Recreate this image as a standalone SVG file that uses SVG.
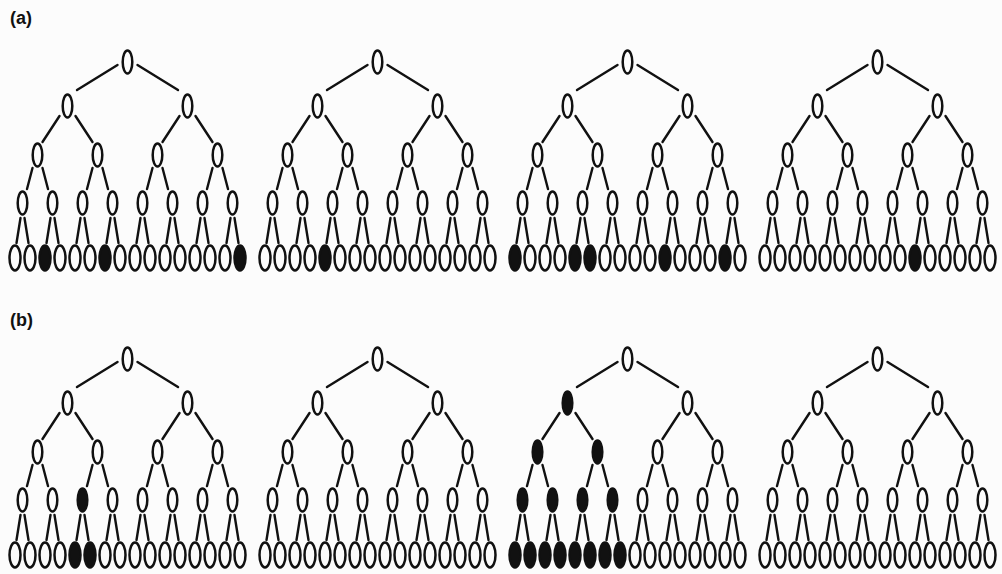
<svg xmlns="http://www.w3.org/2000/svg" xmlns:xlink="http://www.w3.org/1999/xlink" width="1002" height="574" viewBox="0 0 1002 574">
<style>
.o{fill:#fcfcfc;stroke:#111;stroke-width:2.5}
.f{fill:#111;stroke:#111;stroke-width:2.5}
.e{fill:none;stroke:#111;stroke-width:2.4;stroke-linecap:round}
.lbl{font-family:"Liberation Sans",Arial,sans-serif;font-weight:bold;font-size:18px;fill:#111}
</style>
<defs>
<ellipse id="i" cx="0" cy="0" rx="4.8" ry="11.5"/>
<ellipse id="lf" cx="0" cy="0" rx="5.5" ry="12.5"/>
<path id="edges" d="M117.5 65L77 90M137.5 65L178 90M59.5 116L42.5 142M75.5 116L92.5 142M179.5 116L162.5 142M195.5 116L212.5 142M32.5 168L27 189M42.5 168L48 189M92.5 168L87 189M102.5 168L108 189M152.5 168L147 189M162.5 168L168 189M212.5 168L207 189M222.5 168L228 189M20.5 218L16.5 243M24.5 218L28.5 243M50.5 218L46.5 243M54.5 218L58.5 243M80.5 218L76.5 243M84.5 218L88.5 243M110.5 218L106.5 243M114.5 218L118.5 243M140.5 218L136.5 243M144.5 218L148.5 243M170.5 218L166.5 243M174.5 218L178.5 243M200.5 218L196.5 243M204.5 218L208.5 243M230.5 218L226.5 243M234.5 218L238.5 243"/>
</defs>
<rect width="1002" height="574" fill="#fcfcfc"/>
<text class="lbl" x="10" y="24">(a)</text>
<text class="lbl" x="10" y="326">(b)</text>
<g id="connectors">
<use href="#edges" class="e" x="0" y="0"/>
<use href="#edges" class="e" x="250" y="0"/>
<use href="#edges" class="e" x="500" y="0"/>
<use href="#edges" class="e" x="750" y="0"/>
<use href="#edges" class="e" x="0" y="297"/>
<use href="#edges" class="e" x="250" y="297"/>
<use href="#edges" class="e" x="500" y="297"/>
<use href="#edges" class="e" x="750" y="297"/>
</g>

<g id="tree-a1" transform="translate(0,0)">
<g id="a1-n0"><use href="#i" class="o" x="127.5" y="62"/></g>
<g id="a1-n1"><use href="#i" class="o" x="67.5" y="106"/></g>
<g id="a1-n2"><use href="#i" class="o" x="187.5" y="106"/></g>
<g id="a1-n3"><use href="#i" class="o" x="37.5" y="155"/></g>
<g id="a1-n4"><use href="#i" class="o" x="97.5" y="155"/></g>
<g id="a1-n5"><use href="#i" class="o" x="157.5" y="155"/></g>
<g id="a1-n6"><use href="#i" class="o" x="217.5" y="155"/></g>
<g id="a1-n7"><use href="#i" class="o" x="22.5" y="203"/></g>
<g id="a1-n8"><use href="#i" class="o" x="52.5" y="203"/></g>
<g id="a1-n9"><use href="#i" class="o" x="82.5" y="203"/></g>
<g id="a1-n10"><use href="#i" class="o" x="112.5" y="203"/></g>
<g id="a1-n11"><use href="#i" class="o" x="142.5" y="203"/></g>
<g id="a1-n12"><use href="#i" class="o" x="172.5" y="203"/></g>
<g id="a1-n13"><use href="#i" class="o" x="202.5" y="203"/></g>
<g id="a1-n14"><use href="#i" class="o" x="232.5" y="203"/></g>
<g id="a1-n15"><use href="#lf" class="o" x="15" y="258"/></g>
<g id="a1-n16"><use href="#lf" class="o" x="30" y="258"/></g>
<g id="a1-n17"><use href="#lf" class="f" x="45" y="258"/></g>
<g id="a1-n18"><use href="#lf" class="o" x="60" y="258"/></g>
<g id="a1-n19"><use href="#lf" class="o" x="75" y="258"/></g>
<g id="a1-n20"><use href="#lf" class="o" x="90" y="258"/></g>
<g id="a1-n21"><use href="#lf" class="f" x="105" y="258"/></g>
<g id="a1-n22"><use href="#lf" class="o" x="120" y="258"/></g>
<g id="a1-n23"><use href="#lf" class="o" x="135" y="258"/></g>
<g id="a1-n24"><use href="#lf" class="o" x="150" y="258"/></g>
<g id="a1-n25"><use href="#lf" class="o" x="165" y="258"/></g>
<g id="a1-n26"><use href="#lf" class="o" x="180" y="258"/></g>
<g id="a1-n27"><use href="#lf" class="o" x="195" y="258"/></g>
<g id="a1-n28"><use href="#lf" class="o" x="210" y="258"/></g>
<g id="a1-n29"><use href="#lf" class="o" x="225" y="258"/></g>
<g id="a1-n30"><use href="#lf" class="f" x="240" y="258"/></g>
</g>

<g id="tree-a2" transform="translate(250,0)">
<g id="a2-n0"><use href="#i" class="o" x="127.5" y="62"/></g>
<g id="a2-n1"><use href="#i" class="o" x="67.5" y="106"/></g>
<g id="a2-n2"><use href="#i" class="o" x="187.5" y="106"/></g>
<g id="a2-n3"><use href="#i" class="o" x="37.5" y="155"/></g>
<g id="a2-n4"><use href="#i" class="o" x="97.5" y="155"/></g>
<g id="a2-n5"><use href="#i" class="o" x="157.5" y="155"/></g>
<g id="a2-n6"><use href="#i" class="o" x="217.5" y="155"/></g>
<g id="a2-n7"><use href="#i" class="o" x="22.5" y="203"/></g>
<g id="a2-n8"><use href="#i" class="o" x="52.5" y="203"/></g>
<g id="a2-n9"><use href="#i" class="o" x="82.5" y="203"/></g>
<g id="a2-n10"><use href="#i" class="o" x="112.5" y="203"/></g>
<g id="a2-n11"><use href="#i" class="o" x="142.5" y="203"/></g>
<g id="a2-n12"><use href="#i" class="o" x="172.5" y="203"/></g>
<g id="a2-n13"><use href="#i" class="o" x="202.5" y="203"/></g>
<g id="a2-n14"><use href="#i" class="o" x="232.5" y="203"/></g>
<g id="a2-n15"><use href="#lf" class="o" x="15" y="258"/></g>
<g id="a2-n16"><use href="#lf" class="o" x="30" y="258"/></g>
<g id="a2-n17"><use href="#lf" class="o" x="45" y="258"/></g>
<g id="a2-n18"><use href="#lf" class="o" x="60" y="258"/></g>
<g id="a2-n19"><use href="#lf" class="f" x="75" y="258"/></g>
<g id="a2-n20"><use href="#lf" class="o" x="90" y="258"/></g>
<g id="a2-n21"><use href="#lf" class="o" x="105" y="258"/></g>
<g id="a2-n22"><use href="#lf" class="o" x="120" y="258"/></g>
<g id="a2-n23"><use href="#lf" class="o" x="135" y="258"/></g>
<g id="a2-n24"><use href="#lf" class="o" x="150" y="258"/></g>
<g id="a2-n25"><use href="#lf" class="o" x="165" y="258"/></g>
<g id="a2-n26"><use href="#lf" class="o" x="180" y="258"/></g>
<g id="a2-n27"><use href="#lf" class="o" x="195" y="258"/></g>
<g id="a2-n28"><use href="#lf" class="o" x="210" y="258"/></g>
<g id="a2-n29"><use href="#lf" class="o" x="225" y="258"/></g>
<g id="a2-n30"><use href="#lf" class="o" x="240" y="258"/></g>
</g>

<g id="tree-a3" transform="translate(500,0)">
<g id="a3-n0"><use href="#i" class="o" x="127.5" y="62"/></g>
<g id="a3-n1"><use href="#i" class="o" x="67.5" y="106"/></g>
<g id="a3-n2"><use href="#i" class="o" x="187.5" y="106"/></g>
<g id="a3-n3"><use href="#i" class="o" x="37.5" y="155"/></g>
<g id="a3-n4"><use href="#i" class="o" x="97.5" y="155"/></g>
<g id="a3-n5"><use href="#i" class="o" x="157.5" y="155"/></g>
<g id="a3-n6"><use href="#i" class="o" x="217.5" y="155"/></g>
<g id="a3-n7"><use href="#i" class="o" x="22.5" y="203"/></g>
<g id="a3-n8"><use href="#i" class="o" x="52.5" y="203"/></g>
<g id="a3-n9"><use href="#i" class="o" x="82.5" y="203"/></g>
<g id="a3-n10"><use href="#i" class="o" x="112.5" y="203"/></g>
<g id="a3-n11"><use href="#i" class="o" x="142.5" y="203"/></g>
<g id="a3-n12"><use href="#i" class="o" x="172.5" y="203"/></g>
<g id="a3-n13"><use href="#i" class="o" x="202.5" y="203"/></g>
<g id="a3-n14"><use href="#i" class="o" x="232.5" y="203"/></g>
<g id="a3-n15"><use href="#lf" class="f" x="15" y="258"/></g>
<g id="a3-n16"><use href="#lf" class="o" x="30" y="258"/></g>
<g id="a3-n17"><use href="#lf" class="o" x="45" y="258"/></g>
<g id="a3-n18"><use href="#lf" class="o" x="60" y="258"/></g>
<g id="a3-n19"><use href="#lf" class="f" x="75" y="258"/></g>
<g id="a3-n20"><use href="#lf" class="f" x="90" y="258"/></g>
<g id="a3-n21"><use href="#lf" class="o" x="105" y="258"/></g>
<g id="a3-n22"><use href="#lf" class="o" x="120" y="258"/></g>
<g id="a3-n23"><use href="#lf" class="o" x="135" y="258"/></g>
<g id="a3-n24"><use href="#lf" class="o" x="150" y="258"/></g>
<g id="a3-n25"><use href="#lf" class="f" x="165" y="258"/></g>
<g id="a3-n26"><use href="#lf" class="o" x="180" y="258"/></g>
<g id="a3-n27"><use href="#lf" class="o" x="195" y="258"/></g>
<g id="a3-n28"><use href="#lf" class="o" x="210" y="258"/></g>
<g id="a3-n29"><use href="#lf" class="f" x="225" y="258"/></g>
<g id="a3-n30"><use href="#lf" class="o" x="240" y="258"/></g>
</g>

<g id="tree-a4" transform="translate(750,0)">
<g id="a4-n0"><use href="#i" class="o" x="127.5" y="62"/></g>
<g id="a4-n1"><use href="#i" class="o" x="67.5" y="106"/></g>
<g id="a4-n2"><use href="#i" class="o" x="187.5" y="106"/></g>
<g id="a4-n3"><use href="#i" class="o" x="37.5" y="155"/></g>
<g id="a4-n4"><use href="#i" class="o" x="97.5" y="155"/></g>
<g id="a4-n5"><use href="#i" class="o" x="157.5" y="155"/></g>
<g id="a4-n6"><use href="#i" class="o" x="217.5" y="155"/></g>
<g id="a4-n7"><use href="#i" class="o" x="22.5" y="203"/></g>
<g id="a4-n8"><use href="#i" class="o" x="52.5" y="203"/></g>
<g id="a4-n9"><use href="#i" class="o" x="82.5" y="203"/></g>
<g id="a4-n10"><use href="#i" class="o" x="112.5" y="203"/></g>
<g id="a4-n11"><use href="#i" class="o" x="142.5" y="203"/></g>
<g id="a4-n12"><use href="#i" class="o" x="172.5" y="203"/></g>
<g id="a4-n13"><use href="#i" class="o" x="202.5" y="203"/></g>
<g id="a4-n14"><use href="#i" class="o" x="232.5" y="203"/></g>
<g id="a4-n15"><use href="#lf" class="o" x="15" y="258"/></g>
<g id="a4-n16"><use href="#lf" class="o" x="30" y="258"/></g>
<g id="a4-n17"><use href="#lf" class="o" x="45" y="258"/></g>
<g id="a4-n18"><use href="#lf" class="o" x="60" y="258"/></g>
<g id="a4-n19"><use href="#lf" class="o" x="75" y="258"/></g>
<g id="a4-n20"><use href="#lf" class="o" x="90" y="258"/></g>
<g id="a4-n21"><use href="#lf" class="o" x="105" y="258"/></g>
<g id="a4-n22"><use href="#lf" class="o" x="120" y="258"/></g>
<g id="a4-n23"><use href="#lf" class="o" x="135" y="258"/></g>
<g id="a4-n24"><use href="#lf" class="o" x="150" y="258"/></g>
<g id="a4-n25"><use href="#lf" class="f" x="165" y="258"/></g>
<g id="a4-n26"><use href="#lf" class="o" x="180" y="258"/></g>
<g id="a4-n27"><use href="#lf" class="o" x="195" y="258"/></g>
<g id="a4-n28"><use href="#lf" class="o" x="210" y="258"/></g>
<g id="a4-n29"><use href="#lf" class="o" x="225" y="258"/></g>
<g id="a4-n30"><use href="#lf" class="o" x="240" y="258"/></g>
</g>

<g id="tree-b1" transform="translate(0,297)">
<g id="b1-n0"><use href="#i" class="o" x="127.5" y="62"/></g>
<g id="b1-n1"><use href="#i" class="o" x="67.5" y="106"/></g>
<g id="b1-n2"><use href="#i" class="o" x="187.5" y="106"/></g>
<g id="b1-n3"><use href="#i" class="o" x="37.5" y="155"/></g>
<g id="b1-n4"><use href="#i" class="o" x="97.5" y="155"/></g>
<g id="b1-n5"><use href="#i" class="o" x="157.5" y="155"/></g>
<g id="b1-n6"><use href="#i" class="o" x="217.5" y="155"/></g>
<g id="b1-n7"><use href="#i" class="o" x="22.5" y="203"/></g>
<g id="b1-n8"><use href="#i" class="o" x="52.5" y="203"/></g>
<g id="b1-n9"><use href="#i" class="f" x="82.5" y="203"/></g>
<g id="b1-n10"><use href="#i" class="o" x="112.5" y="203"/></g>
<g id="b1-n11"><use href="#i" class="o" x="142.5" y="203"/></g>
<g id="b1-n12"><use href="#i" class="o" x="172.5" y="203"/></g>
<g id="b1-n13"><use href="#i" class="o" x="202.5" y="203"/></g>
<g id="b1-n14"><use href="#i" class="o" x="232.5" y="203"/></g>
<g id="b1-n15"><use href="#lf" class="o" x="15" y="258"/></g>
<g id="b1-n16"><use href="#lf" class="o" x="30" y="258"/></g>
<g id="b1-n17"><use href="#lf" class="o" x="45" y="258"/></g>
<g id="b1-n18"><use href="#lf" class="o" x="60" y="258"/></g>
<g id="b1-n19"><use href="#lf" class="f" x="75" y="258"/></g>
<g id="b1-n20"><use href="#lf" class="f" x="90" y="258"/></g>
<g id="b1-n21"><use href="#lf" class="o" x="105" y="258"/></g>
<g id="b1-n22"><use href="#lf" class="o" x="120" y="258"/></g>
<g id="b1-n23"><use href="#lf" class="o" x="135" y="258"/></g>
<g id="b1-n24"><use href="#lf" class="o" x="150" y="258"/></g>
<g id="b1-n25"><use href="#lf" class="o" x="165" y="258"/></g>
<g id="b1-n26"><use href="#lf" class="o" x="180" y="258"/></g>
<g id="b1-n27"><use href="#lf" class="o" x="195" y="258"/></g>
<g id="b1-n28"><use href="#lf" class="o" x="210" y="258"/></g>
<g id="b1-n29"><use href="#lf" class="o" x="225" y="258"/></g>
<g id="b1-n30"><use href="#lf" class="o" x="240" y="258"/></g>
</g>

<g id="tree-b2" transform="translate(250,297)">
<g id="b2-n0"><use href="#i" class="o" x="127.5" y="62"/></g>
<g id="b2-n1"><use href="#i" class="o" x="67.5" y="106"/></g>
<g id="b2-n2"><use href="#i" class="o" x="187.5" y="106"/></g>
<g id="b2-n3"><use href="#i" class="o" x="37.5" y="155"/></g>
<g id="b2-n4"><use href="#i" class="o" x="97.5" y="155"/></g>
<g id="b2-n5"><use href="#i" class="o" x="157.5" y="155"/></g>
<g id="b2-n6"><use href="#i" class="o" x="217.5" y="155"/></g>
<g id="b2-n7"><use href="#i" class="o" x="22.5" y="203"/></g>
<g id="b2-n8"><use href="#i" class="o" x="52.5" y="203"/></g>
<g id="b2-n9"><use href="#i" class="o" x="82.5" y="203"/></g>
<g id="b2-n10"><use href="#i" class="o" x="112.5" y="203"/></g>
<g id="b2-n11"><use href="#i" class="o" x="142.5" y="203"/></g>
<g id="b2-n12"><use href="#i" class="o" x="172.5" y="203"/></g>
<g id="b2-n13"><use href="#i" class="o" x="202.5" y="203"/></g>
<g id="b2-n14"><use href="#i" class="o" x="232.5" y="203"/></g>
<g id="b2-n15"><use href="#lf" class="o" x="15" y="258"/></g>
<g id="b2-n16"><use href="#lf" class="o" x="30" y="258"/></g>
<g id="b2-n17"><use href="#lf" class="o" x="45" y="258"/></g>
<g id="b2-n18"><use href="#lf" class="o" x="60" y="258"/></g>
<g id="b2-n19"><use href="#lf" class="o" x="75" y="258"/></g>
<g id="b2-n20"><use href="#lf" class="o" x="90" y="258"/></g>
<g id="b2-n21"><use href="#lf" class="o" x="105" y="258"/></g>
<g id="b2-n22"><use href="#lf" class="o" x="120" y="258"/></g>
<g id="b2-n23"><use href="#lf" class="o" x="135" y="258"/></g>
<g id="b2-n24"><use href="#lf" class="o" x="150" y="258"/></g>
<g id="b2-n25"><use href="#lf" class="o" x="165" y="258"/></g>
<g id="b2-n26"><use href="#lf" class="o" x="180" y="258"/></g>
<g id="b2-n27"><use href="#lf" class="o" x="195" y="258"/></g>
<g id="b2-n28"><use href="#lf" class="o" x="210" y="258"/></g>
<g id="b2-n29"><use href="#lf" class="o" x="225" y="258"/></g>
<g id="b2-n30"><use href="#lf" class="o" x="240" y="258"/></g>
</g>

<g id="tree-b3" transform="translate(500,297)">
<g id="b3-n0"><use href="#i" class="o" x="127.5" y="62"/></g>
<g id="b3-n1"><use href="#i" class="f" x="67.5" y="106"/></g>
<g id="b3-n2"><use href="#i" class="o" x="187.5" y="106"/></g>
<g id="b3-n3"><use href="#i" class="f" x="37.5" y="155"/></g>
<g id="b3-n4"><use href="#i" class="f" x="97.5" y="155"/></g>
<g id="b3-n5"><use href="#i" class="o" x="157.5" y="155"/></g>
<g id="b3-n6"><use href="#i" class="o" x="217.5" y="155"/></g>
<g id="b3-n7"><use href="#i" class="f" x="22.5" y="203"/></g>
<g id="b3-n8"><use href="#i" class="f" x="52.5" y="203"/></g>
<g id="b3-n9"><use href="#i" class="f" x="82.5" y="203"/></g>
<g id="b3-n10"><use href="#i" class="f" x="112.5" y="203"/></g>
<g id="b3-n11"><use href="#i" class="o" x="142.5" y="203"/></g>
<g id="b3-n12"><use href="#i" class="o" x="172.5" y="203"/></g>
<g id="b3-n13"><use href="#i" class="o" x="202.5" y="203"/></g>
<g id="b3-n14"><use href="#i" class="o" x="232.5" y="203"/></g>
<g id="b3-n15"><use href="#lf" class="f" x="15" y="258"/></g>
<g id="b3-n16"><use href="#lf" class="f" x="30" y="258"/></g>
<g id="b3-n17"><use href="#lf" class="f" x="45" y="258"/></g>
<g id="b3-n18"><use href="#lf" class="f" x="60" y="258"/></g>
<g id="b3-n19"><use href="#lf" class="f" x="75" y="258"/></g>
<g id="b3-n20"><use href="#lf" class="f" x="90" y="258"/></g>
<g id="b3-n21"><use href="#lf" class="f" x="105" y="258"/></g>
<g id="b3-n22"><use href="#lf" class="f" x="120" y="258"/></g>
<g id="b3-n23"><use href="#lf" class="o" x="135" y="258"/></g>
<g id="b3-n24"><use href="#lf" class="o" x="150" y="258"/></g>
<g id="b3-n25"><use href="#lf" class="o" x="165" y="258"/></g>
<g id="b3-n26"><use href="#lf" class="o" x="180" y="258"/></g>
<g id="b3-n27"><use href="#lf" class="o" x="195" y="258"/></g>
<g id="b3-n28"><use href="#lf" class="o" x="210" y="258"/></g>
<g id="b3-n29"><use href="#lf" class="o" x="225" y="258"/></g>
<g id="b3-n30"><use href="#lf" class="o" x="240" y="258"/></g>
</g>

<g id="tree-b4" transform="translate(750,297)">
<g id="b4-n0"><use href="#i" class="o" x="127.5" y="62"/></g>
<g id="b4-n1"><use href="#i" class="o" x="67.5" y="106"/></g>
<g id="b4-n2"><use href="#i" class="o" x="187.5" y="106"/></g>
<g id="b4-n3"><use href="#i" class="o" x="37.5" y="155"/></g>
<g id="b4-n4"><use href="#i" class="o" x="97.5" y="155"/></g>
<g id="b4-n5"><use href="#i" class="o" x="157.5" y="155"/></g>
<g id="b4-n6"><use href="#i" class="o" x="217.5" y="155"/></g>
<g id="b4-n7"><use href="#i" class="o" x="22.5" y="203"/></g>
<g id="b4-n8"><use href="#i" class="o" x="52.5" y="203"/></g>
<g id="b4-n9"><use href="#i" class="o" x="82.5" y="203"/></g>
<g id="b4-n10"><use href="#i" class="o" x="112.5" y="203"/></g>
<g id="b4-n11"><use href="#i" class="o" x="142.5" y="203"/></g>
<g id="b4-n12"><use href="#i" class="o" x="172.5" y="203"/></g>
<g id="b4-n13"><use href="#i" class="o" x="202.5" y="203"/></g>
<g id="b4-n14"><use href="#i" class="o" x="232.5" y="203"/></g>
<g id="b4-n15"><use href="#lf" class="o" x="15" y="258"/></g>
<g id="b4-n16"><use href="#lf" class="o" x="30" y="258"/></g>
<g id="b4-n17"><use href="#lf" class="o" x="45" y="258"/></g>
<g id="b4-n18"><use href="#lf" class="o" x="60" y="258"/></g>
<g id="b4-n19"><use href="#lf" class="o" x="75" y="258"/></g>
<g id="b4-n20"><use href="#lf" class="o" x="90" y="258"/></g>
<g id="b4-n21"><use href="#lf" class="o" x="105" y="258"/></g>
<g id="b4-n22"><use href="#lf" class="o" x="120" y="258"/></g>
<g id="b4-n23"><use href="#lf" class="o" x="135" y="258"/></g>
<g id="b4-n24"><use href="#lf" class="o" x="150" y="258"/></g>
<g id="b4-n25"><use href="#lf" class="o" x="165" y="258"/></g>
<g id="b4-n26"><use href="#lf" class="o" x="180" y="258"/></g>
<g id="b4-n27"><use href="#lf" class="o" x="195" y="258"/></g>
<g id="b4-n28"><use href="#lf" class="o" x="210" y="258"/></g>
<g id="b4-n29"><use href="#lf" class="o" x="225" y="258"/></g>
<g id="b4-n30"><use href="#lf" class="o" x="240" y="258"/></g>
</g>
</svg>
